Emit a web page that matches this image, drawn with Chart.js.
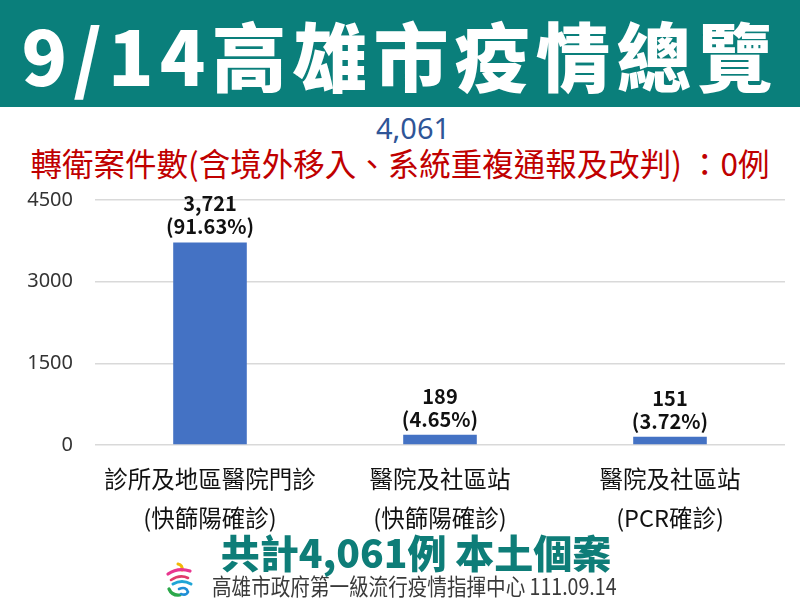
<!DOCTYPE html>
<html><head><meta charset="utf-8">
<script src="https://cdn.jsdelivr.net/npm/chart.js@4.4.0/dist/chart.umd.min.js"></script>
<style>
html,body{margin:0;padding:0;width:800px;height:600px;background:#fff;overflow:hidden;font-family:"Noto Sans CJK TC","Noto Sans",sans-serif;}
#hdr{position:absolute;left:0;top:0;width:800px;height:107px;background:#0A7F7B;color:#fff;font-weight:900;font-size:75px;line-height:107px;text-align:center;letter-spacing:6px;white-space:nowrap;}
#total{position:absolute;left:0;top:110px;width:826px;text-align:center;color:#2F5597;font-size:29px;line-height:36px;font-family:"Noto Sans","Liberation Sans",sans-serif;}
#sub{position:absolute;left:0;top:142px;width:800px;text-align:center;color:#C00000;font-size:31.5px;line-height:40px;white-space:nowrap;}
#wrap{position:absolute;left:0;top:166px;width:800px;height:386px;}
#sum{position:absolute;left:0;top:528px;width:832px;text-align:center;color:#0E7D78;font-weight:900;font-size:39px;line-height:46px;white-space:nowrap;}
#foot{position:absolute;left:212px;top:570px;color:#3A3A3A;font-size:22.5px;line-height:30px;white-space:nowrap;transform:scaleX(0.87);transform-origin:left center;}
#logo{position:absolute;left:164px;top:562px;}
</style></head><body>
<div id="hdr">9/14高雄市疫情總覽</div>
<div id="total">4,061</div>
<div id="sub">轉衛案件數(含境外移入、系統重複通報及改判) ：0例</div>
<div id="wrap"><canvas id="c"></canvas></div>
<div id="sum">共計4,061例 本土個案</div>
<svg id="logo" width="32" height="36" viewBox="0 0 32 36">
<path d="M14 2 Q19 3 18 8" stroke="#F2B705" stroke-width="3" fill="none" stroke-linecap="round"/>
<path d="M4 12 Q14 5 26 9" stroke="#E8368F" stroke-width="3.2" fill="none" stroke-linecap="round"/>
<path d="M7 18 Q16 12 24 16" stroke="#E03B6B" stroke-width="2.6" fill="none" stroke-linecap="round"/>
<path d="M9 22 Q18 17 27 22" stroke="#1FA5D6" stroke-width="3" fill="none" stroke-linecap="round"/>
<path d="M5 27 Q8 34 16 33" stroke="#2BA84A" stroke-width="3.2" fill="none" stroke-linecap="round"/>
<path d="M15 27 Q22 24 24 30 Q22 34 17 32" stroke="#1F8ED6" stroke-width="2.6" fill="none" stroke-linecap="round"/>
</svg>
<div id="foot">高雄市政府第一級流行疫情指揮中心 111.09.14</div>
<script>
const categories = [["診所及地區醫院門診","(快篩陽確診)"],["醫院及社區站","(快篩陽確診)"],["醫院及社區站","(PCR確診)"]];
const values = [3721, 189, 151];
const valueLabels = ["3,721", "189", "151"];
const percentLabels = ["(91.63%)", "(4.65%)", "(3.72%)"];
const yTicks = [0, 1500, 3000, 4500];

const labelPlugin = {
  id: 'barLabels',
  afterDatasetsDraw(chart) {
    const ctx = chart.ctx;
    const meta = chart.getDatasetMeta(0);
    ctx.save();
    ctx.fillStyle = '#111';
    ctx.font = 'bold 20px "Noto Sans CJK TC","Noto Sans",sans-serif';
    ctx.textAlign = 'center';
    ctx.textBaseline = 'alphabetic';
    meta.data.forEach((bar, i) => {
      ctx.fillText(percentLabels[i], bar.x, bar.y - 8);
      ctx.fillText(valueLabels[i], bar.x, bar.y - 31);
    });
    ctx.restore();
  }
};

new Chart(document.getElementById('c'), {
  type: 'bar',
  data: { labels: categories, datasets: [{ data: values, backgroundColor: '#4472C4', barPercentage: 0.64, categoryPercentage: 0.5 }] },
  options: {
    responsive: true, maintainAspectRatio: false, animation: false,
    layout: { padding: { top: 0, right: 15, left: 0, bottom: 0 } },
    plugins: { legend: { display: false }, tooltip: { enabled: false } },
    scales: {
      x: {
        grid: { display: false, drawTicks: false },
        border: { display: false },
        ticks: { color: '#111', font: { size: 23.5, family: '"Noto Sans CJK TC",sans-serif', lineHeight: 1.68 }, padding: 14, maxRotation: 0, autoSkip: false }
      },
      y: {
        min: 0, max: 4500,
        afterBuildTicks: s => { s.ticks = yTicks.map(v => ({ value: v })); },
        afterFit: s => { s.width = 95; },
        grid: { color: '#D9D9D9', lineWidth: 1.5, drawTicks: false },
        border: { display: false },
        ticks: { color: '#333', font: { size: 20, family: '"Noto Sans","DejaVu Sans",sans-serif' }, padding: 22, callback: v => String(v) }
      }
    }
  },
  plugins: [labelPlugin]
});
</script>
</body></html>
